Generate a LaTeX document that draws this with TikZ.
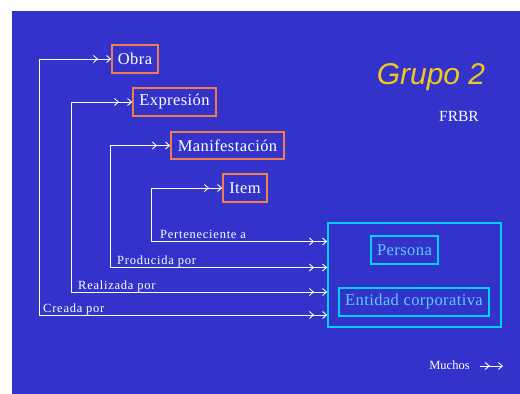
\documentclass[tikz,border=0pt]{standalone}
\usepackage{fontspec}
\setmainfont{Liberation Serif}
\newfontfamily\grpfont{Liberation Sans}
\newfontfamily\lblfont[LetterSpace=6]{Liberation Serif}
\newfontfamily\boxfont[LetterSpace=2.5]{Liberation Serif}
\usetikzlibrary{arrows.meta}
\definecolor{bgblue}{RGB}{51,51,204}
\definecolor{boxorange}{RGB}{238,125,75}
\definecolor{boxcyan}{RGB}{0,210,255}
\definecolor{txtcyan}{RGB}{90,205,255}
\definecolor{grpyellow}{RGB}{240,200,30}
\tikzset{
  x=1pt, y=-1pt,
  wbox/.style={draw=boxorange, line width=1.6pt, text=white, inner sep=0pt,
    font=\boxfont\fontsize{16.5}{18}\selectfont},
  cbox/.style={draw=boxcyan, line width=1.6pt, text=txtcyan, inner sep=0pt,
    font=\boxfont\fontsize{16.5}{18}\selectfont},
  conn/.style={draw=white, line width=0.9pt,
    -{Straight Barb[length=4pt,width=7pt,sep=8pt]Straight Barb[length=4pt,width=7pt]}},
  lbl/.style={text=white, inner sep=0pt, anchor=base west,
    font=\lblfont\fontsize{12.5}{14}\selectfont}
}
\begin{document}
\begin{tikzpicture}
\useasboundingbox (0,0) rectangle (520,394);
\fill[white] (0,0) rectangle (520,394);
\fill[bgblue] (12,11) rectangle (520,394);

% title
\node[text=grpyellow, font=\grpfont\itshape\fontsize{30}{32}\selectfont, inner sep=0pt] (title) at (431,77) {Grupo 2};
\node[text=white, font=\fontsize{15.5}{17}\selectfont, inner sep=0pt] (frbr) at (459,116) {FRBR};

% group 1 boxes
\node[wbox, minimum width=46pt, minimum height=28pt] (obra) at (135,59) {Obra};
\node[wbox, minimum width=83pt, minimum height=28pt] (expr) at (174.5,102) {Expresión};
\node[wbox, minimum width=113pt, minimum height=27pt] (manif) at (227.5,145.5) {Manifestación};
\node[wbox, minimum width=44pt, minimum height=28pt] (item) at (245,188) {Item};

% group 2 boxes
\node[draw=boxcyan, line width=1.6pt, minimum width=173pt, minimum height=104pt, inner sep=0pt] (big) at (414.5,275) {};
\node[cbox, minimum width=67pt, minimum height=28pt] (persona) at (404.5,250) {Persona};
\node[cbox, minimum width=150pt, minimum height=28pt] (entidad) at (414,302) {Entidad corporativa};

% corners
\coordinate (c1) at (39,315);
\coordinate (c2) at (71,292);
\coordinate (c3) at (110,267.5);
\coordinate (c4) at (151,241.5);

% connectors
\draw[conn] (c1) |- (obra.west);
\draw[conn] (c1) -- (big.west |- c1);
\draw[conn] (c2) |- (expr.west);
\draw[conn] (c2) -- (big.west |- c2);
\draw[conn] (c3) |- (manif.west);
\draw[conn] (c3) -- (big.west |- c3);
\draw[conn] (c4) |- (item.west);
\draw[conn] (c4) -- (big.west |- c4);

% labels
\node[lbl] (l1) at (43,312) {Creada por};
\node[lbl] (l2) at (78,289) {Realizada por};
\node[lbl] (l3) at (117,264.5) {Producida por};
\node[lbl] (l4) at (160,238.5) {Perteneciente a};

% legend
\node[text=white, inner sep=0pt, font=\fontsize{12.5}{14}\selectfont] (muchos) at (449.5,365) {Muchos};
\coordinate (m1) at (480,366);
\coordinate (m2) at (503,366);
\draw[conn] (m1) -- (m2);
\end{tikzpicture}
\end{document}
